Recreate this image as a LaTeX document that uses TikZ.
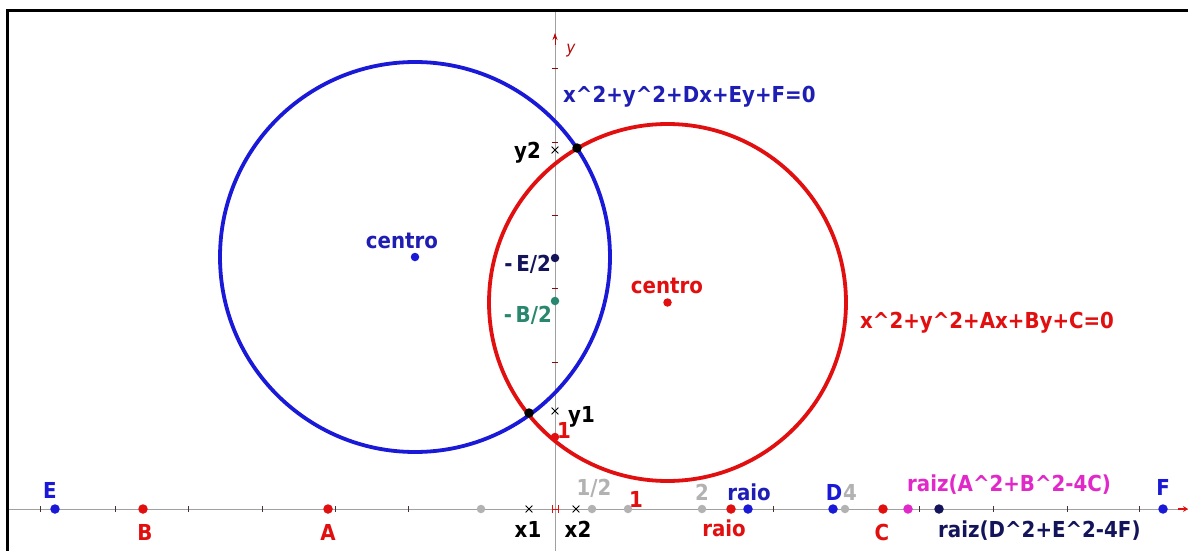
\documentclass[tikz,border=0pt]{standalone}
\usepackage{fontspec}
\setmainfont{DejaVu Sans}[FakeStretch=0.9]
\usetikzlibrary{shapes.misc,arrows.meta}
\definecolor{cblue}{RGB}{25,25,215}
\definecolor{tblue}{RGB}{30,30,180}
\definecolor{cred}{RGB}{225,15,15}
\definecolor{navy}{RGB}{20,20,90}
\definecolor{teal2}{RGB}{40,135,110}
\definecolor{lgray}{RGB}{178,178,178}
\definecolor{axgray}{RGB}{160,160,160}
\definecolor{mag}{RGB}{225,40,200}
\definecolor{tickc}{RGB}{70,50,50}
\tikzset{
  lab/.style={font=\fontsize{22}{24}\selectfont\bfseries, inner sep=0pt, anchor=base},
  dotn/.style={circle, fill=#1, inner sep=0pt, minimum size=9.5pt},
  gdot/.style={circle, fill=lgray, inner sep=0pt, minimum size=8.5pt},
  xmk/.style={cross out, draw=black, line width=0.8pt, inner sep=0pt, minimum size=6pt},
  tk/.style={draw=tickc, line width=1pt},
  circ/.style={line width=3.8pt},
}
\begin{document}
\begin{tikzpicture}[x=1pt,y=-1pt]
\useasboundingbox (0,0) rectangle (1188,551);
\fill[white] (0,0) rectangle (1188,551);
% frame
\draw[line width=3pt] (7.5,551) -- (7.5,10.5) -- (1188,10.5);
% axes
\coordinate (xl) at (9,509);
\coordinate (xr) at (1188,509);
\coordinate (yt) at (555,12);
\coordinate (yb) at (555,551);
\draw[axgray, line width=1pt] (xl) -- (xr);
\draw[axgray, line width=1pt] (yt) -- (yb);
\draw[cred!80!black, line width=0.8pt, -{Stealth[length=7pt,width=5pt]}] (555,45) -- (555,33);
\draw[cred, line width=1.2pt, -{Stealth[length=5pt,width=6pt]}] (1178,509) -- (1188,509);
\node[font=\fontsize{17}{19}\selectfont\itshape, text=cred!80!black, inner sep=0pt] (ylab) at (571,51) {y};
% x ticks
\foreach \t in {40,115,188,262,335,408,773,919,993,1067,1139}
  \draw[tk] (\t,506) -- (\t,512);
% y ticks
\foreach \t in {69,142,215,288,362,436}
  \draw[tk, draw=cred!60!black] (552,\t) -- (558,\t);
\draw[cred, line width=1pt] (552,505) -- (552,513) (558,505) -- (558,513) (552,509) -- (558,509);
% circles
\coordinate (bc) at (415,257);
\coordinate (rc) at (667.5,302.5);
\draw[cblue, circ] (bc) circle[radius=195pt];
\draw[cred, circ] (rc) circle[radius=178.5pt];
% equations
\node[lab, anchor=base west, text=tblue] (eqb) at (563,102) {x\^{}2+y\^{}2+Dx+Ey+F=0};
\node[lab, anchor=base west, text=cred] (eqr) at (860,328) {x\^{}2+y\^{}2+Ax+By+C=0};
% centres
\node[dotn=cblue, minimum size=8.5pt] (cb) at (bc) {};
\node[lab, text=tblue] (cbl) at (402,248) {centro};
\node[dotn=cred, minimum size=8.5pt] (cr) at (rc) {};
\node[lab, text=cred] (crl) at (667,293) {centro};
% intersections
\node[dotn=black] (p2) at (577,148) {};
\node[dotn=black] (p1) at (529,413) {};
\node[xmk] (my2) at (555,150) {};
\node[lab, anchor=base east, text=black] (y2l) at (541,158) {y2};
\node[xmk] (my1) at (555,411) {};
\node[lab, anchor=base west, text=black] (y1l) at (568,422) {y1};
\node[dotn=cred, minimum size=8.5pt] (one) at (555,437) {};
\node[lab, text=cred] (onel) at (564,438) {1};
% y-axis points
\node[dotn=navy, minimum size=8.5pt] (e2) at (555,258) {};
\node[lab, anchor=base east, text=navy] (e2l) at (551,271) {-\,E/2};
\node[dotn=teal2, minimum size=8.5pt] (b2) at (555,301) {};
\node[lab, anchor=base east, text=teal2] (b2l) at (552,322) {-\,B/2};
% x-axis points
\node[dotn=cblue] (E) at (55,509) {};
\node[lab, text=cblue] (El) at (50,498) {E};
\node[dotn=cred] (B) at (143,509) {};
\node[lab, text=cred] (Bl) at (145,540) {B};
\node[dotn=cred] (A) at (328,509) {};
\node[lab, text=cred] (Al) at (328,540) {A};
\node[gdot] (gm1) at (481,509) {};
\node[xmk] (mx1) at (529,509) {};
\node[lab, text=black] (x1l) at (528,537) {x1};
\node[xmk] (mx2) at (576,509) {};
\node[lab, text=black] (x2l) at (578,537) {x2};
\node[gdot] (gh) at (592,509) {};
\node[lab, text=lgray] (ghl) at (594,495) {1/2};
\node[gdot] (g1) at (628,509) {};
\node[lab, text=cred] (g1l) at (636,507) {1};
\node[gdot] (g2) at (702,509) {};
\node[lab, text=lgray] (g2l) at (702,500) {2};
\node[dotn=cred] (rr) at (731,509) {};
\node[lab, text=cred] (rrl) at (724,536) {raio};
\node[dotn=cblue] (rb) at (748,509) {};
\node[lab, text=tblue] (rbl) at (749,500) {raio};
\node[dotn=cblue] (D) at (833,509) {};
\node[lab, text=cblue] (Dl) at (834,500) {D};
\node[gdot] (g4) at (845,509) {};
\node[lab, text=lgray] (g4l) at (850,500) {4};
\node[dotn=cred] (C) at (883,509) {};
\node[lab, text=cred] (Cl) at (882,540) {C};
\node[dotn=mag] (ra) at (908,509) {};
\node[lab, anchor=base west, text=mag] (ral) at (907,491) {raiz(A\^{}2+B\^{}2-4C)};
\node[dotn=navy] (rd) at (939,509) {};
\node[lab, anchor=base west, text=navy] (rdl) at (938,537) {raiz(D\^{}2+E\^{}2-4F)};
\node[dotn=cblue] (F) at (1163,509) {};
\node[lab, text=cblue] (Fl) at (1163,495) {F};
\end{tikzpicture}
\end{document}
